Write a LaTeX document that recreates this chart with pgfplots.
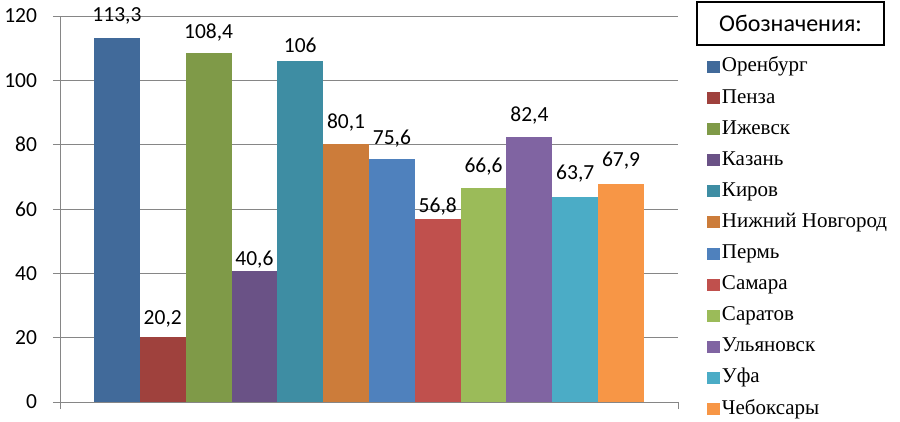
\documentclass[border=0pt]{standalone}
\usepackage{fontspec}
\setmainfont{Carlito}
\newfontfamily\tnr{Liberation Serif}
\usepackage{pgfplots}
\pgfplotsset{compat=1.18}
\definecolor{c1}{HTML}{416A9A}
\definecolor{c2}{HTML}{9F413D}
\definecolor{c3}{HTML}{7F9A48}
\definecolor{c4}{HTML}{6A5286}
\definecolor{c5}{HTML}{3E8DA3}
\definecolor{c6}{HTML}{CC7C3A}
\definecolor{c7}{HTML}{4F81BD}
\definecolor{c8}{HTML}{C0504D}
\definecolor{c9}{HTML}{9BBB59}
\definecolor{c10}{HTML}{8064A2}
\definecolor{c11}{HTML}{4BACC6}
\definecolor{c12}{HTML}{F79646}
\definecolor{gridc}{HTML}{868686}
\begin{document}
\begin{tikzpicture}
\useasboundingbox (0,0) rectangle (900pt,421pt);
\begin{axis}[
  at={(60pt,19pt)}, anchor=south west,
  scale only axis, width=618pt, height=386pt,
  xmin=-1, xmax=1, ymin=0, ymax=120,
  ybar=0pt, bar width=45.83pt,
  axis x line=bottom, axis y line=left,
  axis line style={-, draw=gridc, line width=0.9pt},
  xtick={-1,1}, xticklabels={},
  ytick={0,20,...,120},
  tick style={draw=gridc, line width=0.9pt},
  major tick length=7pt, tick align=outside,
  ymajorgrids, grid style={draw=gridc, line width=0.9pt},
  tick label style={font=\fontsize{21.5}{25}\selectfont},
  yticklabel style={xshift=-12.5pt},
  /pgf/number format/.cd, use comma, fixed, precision=1, assume math mode=true,
  /pgfplots/.cd,
  nodes near coords,
  every node near coord/.append style={font=\fontsize{21.5}{25}\selectfont, text=black, inner sep=0pt, anchor=base},
  legend style={at={(1.0469,0.8912)}, anchor=north west, draw=none, fill=none,
    inner sep=0pt, outer sep=0pt, row sep=13.1pt, column sep=2pt,
    font=\tnr\fontsize{21}{25}\selectfont,
    nodes={inner sep=0pt, text height=14pt, text depth=4pt}},
  legend cell align=left,
  legend image code/.code={\fill[#1] (0pt,-6pt) rectangle (13pt,6pt);},
]
\addplot[fill=c1, draw=none, every node near coord/.append style={yshift=15.6pt}] coordinates {(0,113.3)};
\addlegendentry{Оренбург}
\addplot[fill=c2, draw=none, every node near coord/.append style={yshift=13pt}] coordinates {(0,20.2)};
\addlegendentry{Пенза}
\addplot[fill=c3, draw=none, every node near coord/.append style={yshift=15pt}] coordinates {(0,108.4)};
\addlegendentry{Ижевск}
\addplot[fill=c4, draw=none, every node near coord/.append style={yshift=6pt}] coordinates {(0,40.6)};
\addlegendentry{Казань}
\addplot[fill=c5, draw=none, every node near coord/.append style={yshift=9pt}] coordinates {(0,106)};
\addlegendentry{Киров}
\addplot[fill=c6, draw=none, every node near coord/.append style={yshift=16pt}] coordinates {(0,80.1)};
\addlegendentry{Нижний Новгород}
\addplot[fill=c7, draw=none, every node near coord/.append style={yshift=14pt}] coordinates {(0,75.6)};
\addlegendentry{Пермь}
\addplot[fill=c8, draw=none, every node near coord/.append style={yshift=7pt}] coordinates {(0,56.8)};
\addlegendentry{Самара}
\addplot[fill=c9, draw=none, every node near coord/.append style={yshift=15pt}] coordinates {(0,66.6)};
\addlegendentry{Саратов}
\addplot[fill=c10, draw=none, every node near coord/.append style={yshift=15pt}] coordinates {(0,82.4)};
\addlegendentry{Ульяновск}
\addplot[fill=c11, draw=none, every node near coord/.append style={yshift=18pt}] coordinates {(0,63.7)};
\addlegendentry{Уфа}
\addplot[fill=c12, draw=none, every node near coord/.append style={yshift=17pt}] coordinates {(0,67.9)};
\addlegendentry{Чебоксары}
\end{axis}
\node[draw=black, line width=1.2pt, minimum width=187pt, minimum height=43pt, inner sep=0pt,
  font=\fontsize{24}{28}\selectfont] at (790.5pt,397.5pt) {Обозначения:};
\end{tikzpicture}
\end{document}
